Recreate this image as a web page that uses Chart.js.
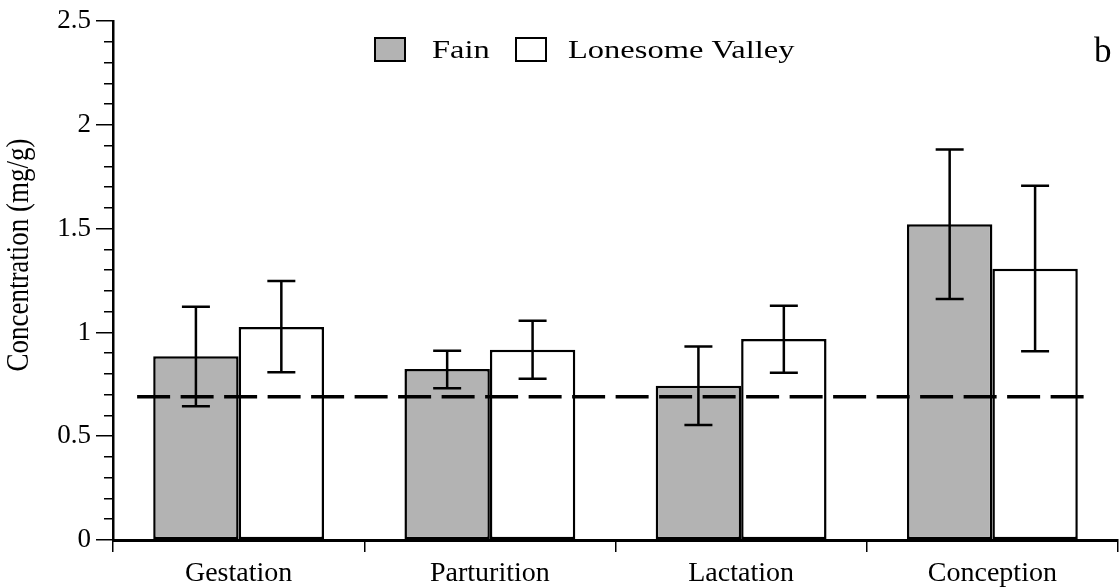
<!DOCTYPE html>
<html>
<head>
<meta charset="utf-8">
<script src="https://cdn.jsdelivr.net/npm/chart.js@4.4.1/dist/chart.umd.min.js"></script>
<style>
  html, body { margin: 0; padding: 0; background: #ffffff; }
  #wrap { width: 1120px; height: 588px; }
</style>
</head>
<body>
<div id="wrap"><canvas id="c" width="1120" height="588"></canvas></div>
<script>
// ---- data ----
const categories = ['Gestation', 'Parturition', 'Lactation', 'Conception'];
const seriesNames = ['Fain', 'Lonesome Valley'];
const fainMean = [0.886, 0.824, 0.743, 1.522];
const fainLow  = [0.645, 0.731, 0.554, 1.161];
const fainHigh = [1.124, 0.912, 0.933, 1.882];
const lvMean   = [1.027, 0.917, 0.968, 1.307];
const lvLow    = [0.808, 0.777, 0.806, 0.909];
const lvHigh   = [1.248, 1.056, 1.129, 1.707];
const thresholdValue = 0.69;           // dashed reference line
const thresholdFrom = -0.404;          // category-index extent of dashed line
const thresholdTo = 3.372;
const yTickLabels = ['0', '0.5', '1', '1.5', '2', '2.5'];
const yTitle = 'Concentration (mg/g)';
const panelLetter = 'b';

const SERIF = '"Liberation Serif", "DejaVu Serif", serif';
const fillColors = ['#b3b3b3', '#ffffff'];
const lowArrs = [fainLow, lvLow];
const highArrs = [fainHigh, lvHigh];

const overlay = {
  id: 'overlay',
  afterDatasetsDraw(chart) {
    const ctx = chart.ctx;
    const xs = chart.scales.x, ys = chart.scales.y;
    // dashed reference line
    ctx.save();
    ctx.strokeStyle = '#000';
    ctx.lineWidth = 3.5;
    ctx.setLineDash([33, 10.5]);
    const yT = ys.getPixelForValue(thresholdValue);
    ctx.beginPath();
    ctx.moveTo(xs.getPixelForValue(thresholdFrom), yT);
    ctx.lineTo(xs.getPixelForValue(thresholdTo), yT);
    ctx.stroke();
    ctx.restore();
    // error bars
    ctx.save();
    ctx.strokeStyle = '#000';
    ctx.lineWidth = 2.5;
    chart.data.datasets.forEach((ds, i) => {
      const meta = chart.getDatasetMeta(i);
      meta.data.forEach((el, j) => {
        const x = el.x;
        const y1 = ys.getPixelForValue(lowArrs[i][j]);
        const y2 = ys.getPixelForValue(highArrs[i][j]);
        ctx.beginPath();
        ctx.moveTo(x, y1); ctx.lineTo(x, y2);
        ctx.moveTo(x - 14, y1); ctx.lineTo(x + 14, y1);
        ctx.moveTo(x - 14, y2); ctx.lineTo(x + 14, y2);
        ctx.stroke();
      });
    });
    ctx.restore();
  },
  afterDraw(chart) {
    const ctx = chart.ctx;
    // legend (text slightly widened like the reference)
    const boxes = [375, 516];
    const texts = [432, 568];
    seriesNames.forEach((name, i) => {
      ctx.save();
      ctx.fillStyle = fillColors[i];
      ctx.fillRect(boxes[i], 38, 30, 23);
      ctx.strokeStyle = '#000';
      ctx.lineWidth = 2;
      ctx.strokeRect(boxes[i], 38, 30, 23);
      ctx.fillStyle = '#000';
      ctx.font = '25px ' + SERIF;
      ctx.textBaseline = 'alphabetic';
      ctx.textAlign = 'left';
      ctx.translate(texts[i], 58);
      ctx.scale(1.3, 1);
      ctx.fillText(name, 0, 0);
      ctx.restore();
    });
    // y axis title
    ctx.save();
    ctx.fillStyle = '#000';
    ctx.font = '27px ' + SERIF;
    ctx.textAlign = 'center';
    ctx.textBaseline = 'middle';
    ctx.translate(19, 255);
    ctx.scale(1.2, 1);
    ctx.rotate(-Math.PI / 2);
    ctx.fillText(yTitle, 0, 0);
    ctx.restore();
    // panel letter
    ctx.save();
    ctx.fillStyle = '#000';
    ctx.font = '35px ' + SERIF;
    ctx.textBaseline = 'alphabetic';
    ctx.fillText(panelLetter, 1094, 62);
    ctx.restore();
  }
};

new Chart(document.getElementById('c'), {
  type: 'bar',
  data: {
    labels: categories,
    datasets: [
      { label: seriesNames[0], data: fainMean, backgroundColor: fillColors[0], borderColor: '#000', borderWidth: 2.5, borderSkipped: false },
      { label: seriesNames[1], data: lvMean, backgroundColor: fillColors[1], borderColor: '#000', borderWidth: 2.5, borderSkipped: false }
    ]
  },
  plugins: [overlay],
  options: {
    responsive: false,
    animation: false,
    devicePixelRatio: 1,
    layout: { padding: { top: 21, right: 2, left: 0, bottom: 0 } },
    datasets: { bar: { categoryPercentage: 0.68, barPercentage: 1.0 } },
    plugins: { legend: { display: false }, tooltip: { enabled: false } },
    scales: {
      x: {
        offset: true,
        grid: { offset: true, drawOnChartArea: false, tickLength: 12, color: '#000', lineWidth: 1.5 },
        border: { color: '#000', width: 3 },
        ticks: { color: '#000', font: { family: SERIF, size: 28 }, padding: 5, maxRotation: 0 },
        afterFit(scale) { scale.height = 48; }
      },
      y: {
        min: 0, max: 2.5,
        grid: {
          drawOnChartArea: false, tickLength: 17, color: '#000', lineWidth: 1.5,
          tickBorderDash: (ctx) => {
            const v = ctx.tick ? ctx.tick.value : 0;
            return Math.abs(v * 2 - Math.round(v * 2)) < 1e-6 ? [] : [0, 8, 20];
          }
        },
        border: { color: '#000', width: 2.5 },
        ticks: {
          stepSize: 0.1, autoSkip: false, color: '#000', padding: 5,
          font: { family: SERIF, size: 27 },
          callback: (v) => {
            const k = Math.round(v * 2);
            return Math.abs(v * 2 - k) < 1e-6 ? yTickLabels[k] : '';
          }
        },
        title: { display: false },
        afterFit(scale) { scale.width = 113; }
      }
    }
  }
});
</script>
</body>
</html>
